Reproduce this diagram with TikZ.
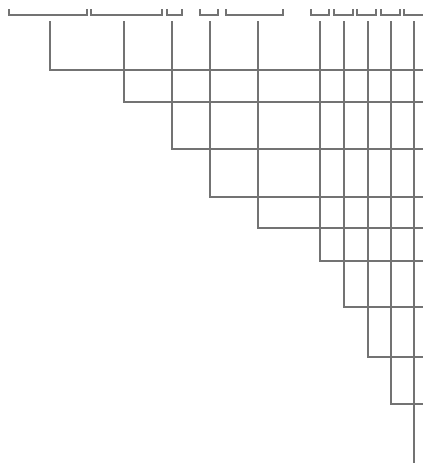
\documentclass[tikz,border=0pt]{standalone}
\usepackage{tikz}
\tikzset{
  branch/.style={draw=black!55, line width=1.2pt},
  bracket/.style={draw=black!55, line width=1.1pt}
}
\begin{document}
\begin{tikzpicture}[x=1pt, y=-1pt]
\useasboundingbox (0,0) rectangle (423,467);
\clip (0,0) rectangle (423,467);
% Top row: brackets
\draw[bracket] (9,9) -- (9,15) -- (87,15) -- (87,9);
\draw[bracket] (91,9) -- (91,15) -- (162,15) -- (162,9);
\draw[bracket] (167,9) -- (167,15) -- (182,15) -- (182,9);
\draw[bracket] (200,9) -- (200,15) -- (218,15) -- (218,9);
\draw[bracket] (226,9) -- (226,15) -- (283,15) -- (283,9);
\draw[bracket] (311,9) -- (311,15) -- (329,15) -- (329,9);
\draw[bracket] (334,9) -- (334,15) -- (353,15) -- (353,9);
\draw[bracket] (357,9) -- (357,15) -- (376,15) -- (376,9);
\draw[bracket] (381,9) -- (381,15) -- (400,15) -- (400,9);
\draw[bracket] (404,9) -- (404,15) -- (430,15);

% Branches: drop down, then run to the right edge
\draw[branch] (50,21) -- (50,70) -- (430,70);
\draw[branch] (124,21) -- (124,102) -- (430,102);
\draw[branch] (172,21) -- (172,149) -- (430,149);
\draw[branch] (210,21) -- (210,197) -- (430,197);
\draw[branch] (258,21) -- (258,228) -- (430,228);
\draw[branch] (320,21) -- (320,261) -- (430,261);
\draw[branch] (344,21) -- (344,307) -- (430,307);
\draw[branch] (368,21) -- (368,357) -- (430,357);
\draw[branch] (391,21) -- (391,404) -- (430,404);
\draw[branch] (414,21) -- (414,463);
\end{tikzpicture}
\end{document}
